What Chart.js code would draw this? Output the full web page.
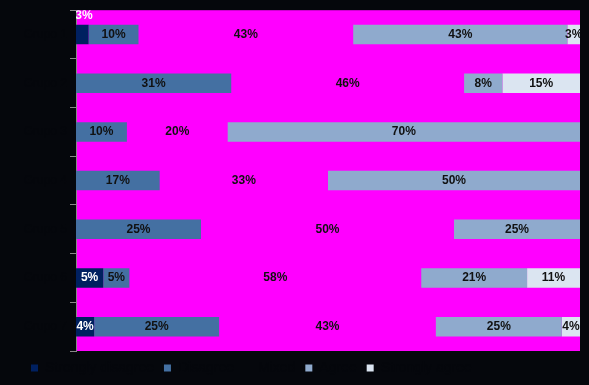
<!DOCTYPE html>
<html>
<head>
<meta charset="utf-8">
<script src="https://cdn.jsdelivr.net/npm/chart.js@4/dist/chart.umd.min.js"></script>
<style>
  html, body { margin: 0; padding: 0; background: #05070c; }
  #wrap { width: 589px; height: 385px; }
</style>
</head>
<body>
<div id="wrap"><canvas id="myChart" width="589" height="385"></canvas></div>
<script>
const categorias = ['Grupo 1', 'Grupo 2', 'Grupo 3', 'Grupo 4', 'Grupo 5', 'Grupo 6', 'Grupo 7'];
const series = ['Strongly disagree', 'Disagree', 'Mixed', 'Agree', 'Strongly agree'];
const colores = ['#002060', '#4470a2', 'rgba(255,0,255,0)', '#8faacd', '#dbe5f1'];

const muyEnDesacuerdo = [2.5, 0, 0, 0, 0, 5.4, 3.6];
const enDesacuerdo    = [9.9, 30.8, 10.1, 16.6, 24.8, 5.2, 24.8];
const neutral         = [42.6, 46.2, 20.0, 33.4, 50.2, 57.9, 43.0];
const deAcuerdo       = [42.5, 7.6, 69.9, 50.0, 25.0, 21.0, 25.0];
const muyDeAcuerdo    = [2.5, 15.4, 0, 0, 0, 10.5, 3.6];

const valores = [muyEnDesacuerdo, enDesacuerdo, neutral, deAcuerdo, muyDeAcuerdo];

const colorFondo = '#05070c';

// fondo magenta del area del grafico
const fondoArea = {
  id: 'fondoArea',
  beforeDraw(chart) {
    const { ctx, chartArea } = chart;
    ctx.save();
    ctx.fillStyle = '#ff00ff';
    ctx.fillRect(chartArea.left, chartArea.top, chartArea.right - chartArea.left, chartArea.bottom - chartArea.top);
    ctx.restore();
  }
};

// etiquetas de porcentaje sobre cada segmento
const etiquetas = {
  id: 'etiquetas',
  afterDatasetsDraw(chart) {
    const { ctx, chartArea } = chart;
    ctx.save();
    ctx.beginPath();
    ctx.rect(chartArea.left, chartArea.top, chartArea.right - chartArea.left, chartArea.bottom - chartArea.top);
    ctx.clip();
    ctx.font = 'bold 12px "Liberation Sans", Arial, sans-serif';
    ctx.textAlign = 'center';
    ctx.textBaseline = 'middle';
    chart.data.datasets.forEach((ds, i) => {
      const meta = chart.getDatasetMeta(i);
      meta.data.forEach((bar, j) => {
        const v = ds.data[j];
        if (!v) return;
        const ancho = Math.abs(bar.x - bar.base);
        let x = (bar.x + bar.base) / 2;
        let y = bar.y;
        if (i === 0 && ancho < 15) {
          y = bar.y - 19;
          x = bar.base + 8;
        }
        ctx.fillStyle = i === 0 ? '#ffffff' : '#111111';
        ctx.fillText(Math.round(v) + '%', x, y);
      });
    });
    ctx.restore();
  }
};

const ctx = document.getElementById('myChart').getContext('2d');
new Chart(ctx, {
  type: 'bar',
  data: {
    labels: categorias,
    datasets: series.map((nombre, i) => ({
      label: nombre,
      data: valores[i],
      backgroundColor: colores[i],
      borderWidth: 0,
      barPercentage: 0.4,
      categoryPercentage: 1
    }))
  },
  options: {
    indexAxis: 'y',
    responsive: false,
    animation: false,
    layout: { padding: { top: 10, right: 9, left: 21, bottom: 0 } },
    scales: {
      x: { stacked: true, display: false, min: 0, max: 100 },
      y: {
        stacked: true,
        afterFit(axis) { axis.width = 55; },
        grid: { drawOnChartArea: false, color: '#888888', tickLength: 6 },
        border: { display: true, color: '#888888' },
        ticks: { color: colorFondo, font: { size: 12 } }
      }
    },
    plugins: {
      legend: {
        position: 'bottom',
        align: 'start',
        labels: {
          boxWidth: 7,
          boxHeight: 7,
          color: colorFondo,
          font: { size: 14, family: '"Liberation Sans", Arial, sans-serif' }
        }
      },
      tooltip: { enabled: false }
    }
  },
  plugins: [fondoArea, etiquetas]
});
</script>
</body>
</html>
